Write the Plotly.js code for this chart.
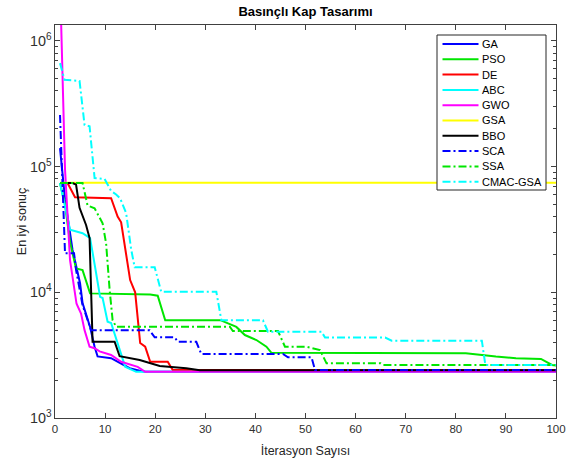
<!DOCTYPE html>
<html><head><meta charset="utf-8">
<script src="https://cdn.plot.ly/plotly-3.0.1.min.js"></script>
<style>html,body{margin:0;padding:0;background:#fff}#chart{width:571px;height:459px}</style>
</head><body><div id="chart"></div>
<script>
// ---- data ----
const seriesNames = ["GA","PSO","DE","ABC","GWO","GSA","BBO","SCA","SSA","CMAC-GSA"];
const xTickValues = [0,10,20,30,40,50,60,70,80,90,100];

const iterGA = [1, 2, 3.5, 5, 5.5, 7, 7.9, 8.5, 11.2, 13.2, 14.9, 16.9, 18, 100];
const bestGA = [140000, 55000, 21700, 11800, 8200, 5300, 3690, 3090, 2990, 2720, 2490, 2380, 2330, 2330];

const iterPSO = [1, 2, 3, 4.2, 5.5, 7, 19, 20.5, 22, 33, 36.2, 37.9, 40.2, 42.2, 43.2, 82, 88, 92, 97, 99.2, 100];
const bestPSO = [74000, 50000, 25000, 15500, 15000, 9800, 9600, 9400, 6000, 6000, 5300, 4570, 4170, 3690, 3300, 3270, 3080, 2990, 2950, 2640, 2620];

const iterDE = [1, 2.5, 4, 11.2, 12.5, 13.2, 15, 16, 17, 18, 19, 22.5, 23.5, 100];
const bestDE = [74000, 74000, 57000, 56000, 40000, 36000, 12500, 10000, 3950, 3700, 2800, 2800, 2410, 2410];

const iterABC = [1, 3, 5.5, 7, 8, 9, 9.5, 10.5, 11.2, 13, 14, 16.2, 100];
const bestABC = [74000, 31500, 29500, 27000, 15900, 9200, 9000, 5840, 5700, 3470, 2560, 2330, 2330];

const iterGWO = [1, 2, 3, 4.3, 5.2, 5.9, 6.9, 7.9, 8.9, 11.2, 13.2, 15.2, 16.5, 18, 100];
const bestGWO = [3000000, 95000, 18000, 8100, 6760, 5000, 3690, 3590, 3390, 3170, 2800, 2640, 2550, 2330, 2330];

const iterGSA = [1, 100];
const bestGSA = [74500, 74500];

const iterBBO = [1, 3.5, 4.2, 4.9, 6.2, 6.9, 7.2, 7.5, 11.9, 12.9, 16.9, 20.9, 26.2, 28.9, 100];
const bestBBO = [74000, 74000, 72000, 47000, 34300, 27000, 10500, 4050, 4050, 3100, 2890, 2590, 2490, 2400, 2400];

const iterSCA = [1, 2, 3.8, 4.2, 5.5, 7.2, 18.9, 19.9, 23.9, 24.5, 28.2, 29.2, 45.5, 46.5, 51.2, 51.9, 100];
const bestSCA = [257000, 20400, 20400, 15100, 7900, 5000, 4980, 4380, 4380, 4040, 4040, 3230, 3230, 3040, 3040, 2410, 2410];

const iterSSA = [1, 5.5, 6.5, 7.9, 9.5, 10.2, 10.9, 11.5, 12.2, 34.9, 35.5, 44.5, 45.9, 50.2, 52.9, 54.2, 65, 65.5, 100];
const bestSSA = [74000, 74000, 49000, 46600, 35400, 24500, 10500, 6000, 5320, 5320, 4920, 4920, 3690, 3690, 3470, 2720, 2720, 2640, 2640];

const iterCMAC = [1, 1.9, 4.9, 5.9, 6.9, 7.9, 9.9, 11.2, 12.2, 13, 14.2, 15.2, 15.9, 19.9, 21.2, 32.2, 33.2, 41.5, 42.5, 53.2, 53.9, 65.9, 67.2, 85.2, 85.9, 100];
const bestCMAC = [665000, 490000, 480000, 214000, 209000, 81000, 79600, 64000, 60000, 56000, 42600, 22000, 15800, 15800, 10100, 10100, 6000, 6000, 4860, 4860, 4360, 4360, 4120, 4120, 2640, 2640];

// ---- styling ----
const iters = [iterGA, iterPSO, iterDE, iterABC, iterGWO, iterGSA, iterBBO, iterSCA, iterSSA, iterCMAC];
const bests = [bestGA, bestPSO, bestDE, bestABC, bestGWO, bestGSA, bestBBO, bestSCA, bestSSA, bestCMAC];
const DD = "8px,3px,2px,3px";
const styleColors = ["#0000ff","#00e600","#ff0000","#00ffff","#ff00ff","#ffff00","#000000","#0000ff","#00e600","#00ffff"];
const styleDash = ["solid","solid","solid","solid","solid","solid","solid",DD,DD,DD];

const traces = seriesNames.map((n, i) => ({
  x: iters[i], y: bests[i], name: n, type: 'scatter', mode: 'lines',
  line: {color: styleColors[i], width: 2, dash: styleDash[i]},
  showlegend: false, hoverinfo: 'skip'
}));

// manual MATLAB-style legend (paper coordinates)
const L = 55, R = 556, T = 25, B = 418;
const px2x = p => (p - L) / (R - L);
const py2y = p => (B - p) / (B - T);
const shapes = [{
  type: 'rect', xref: 'paper', yref: 'paper',
  x0: px2x(437), x1: px2x(546), y0: py2y(190), y1: py2y(35),
  line: {color: '#262626', width: 1}, fillcolor: '#ffffff', layer: 'above'
}];
const annotations = [];
seriesNames.forEach((n, i) => {
  const yy = py2y(44 + 15.3 * i);
  shapes.push({type: 'line', xref: 'paper', yref: 'paper', x0: px2x(442.5), x1: px2x(478.5), y0: yy, y1: yy,
    line: {color: styleColors[i], width: 2, dash: styleDash[i]}, layer: 'above'});
  annotations.push({xref: 'paper', yref: 'paper', x: px2x(480), y: yy, text: n, showarrow: false,
    xanchor: 'left', yanchor: 'middle', font: {size: 11, color: '#000'}});
});

const FONT = 'Liberation Sans, Arial, sans-serif';
const layout = {
  width: 571, height: 459,
  margin: {l: 55, r: 15, t: 25, b: 41},
  paper_bgcolor: '#ffffff', plot_bgcolor: '#ffffff',
  font: {family: FONT, color: '#303030', size: 11.5},
  title: {text: '<b>Basınçlı Kap Tasarımı</b>', font: {size: 13, color: '#000'}, x: 0.535, xanchor: 'center', y: 0.975, yanchor: 'middle'},
  xaxis: {
    title: {text: 'İterasyon Sayısı', font: {size: 12.5, color: '#262626'}, standoff: 12},
    range: [0, 100], tickmode: 'array', tickvals: xTickValues,
    ticks: 'inside', ticklen: 5, tickcolor: '#404040', showline: true, linecolor: '#404040', linewidth: 1,
    mirror: 'ticks', showgrid: false, zeroline: false, automargin: false
  },
  yaxis: {
    title: {text: 'En iyi sonuç', font: {size: 12.5, color: '#262626'}, standoff: 0},
    type: 'log', range: [3, 6.126], dtick: 1, exponentformat: 'power',
    ticks: 'inside', ticklen: 5, tickcolor: '#404040', showline: true, linecolor: '#404040', linewidth: 1,
    mirror: 'ticks', showgrid: false, zeroline: false, automargin: false,
    minor: {ticks: 'inside', ticklen: 3, tickcolor: '#404040', dtick: 'D1', showgrid: false}
  },
  shapes: shapes, annotations: annotations, showlegend: false
};
Plotly.newPlot('chart', traces, layout, {staticPlot: true, displayModeBar: false});
</script></body></html>
